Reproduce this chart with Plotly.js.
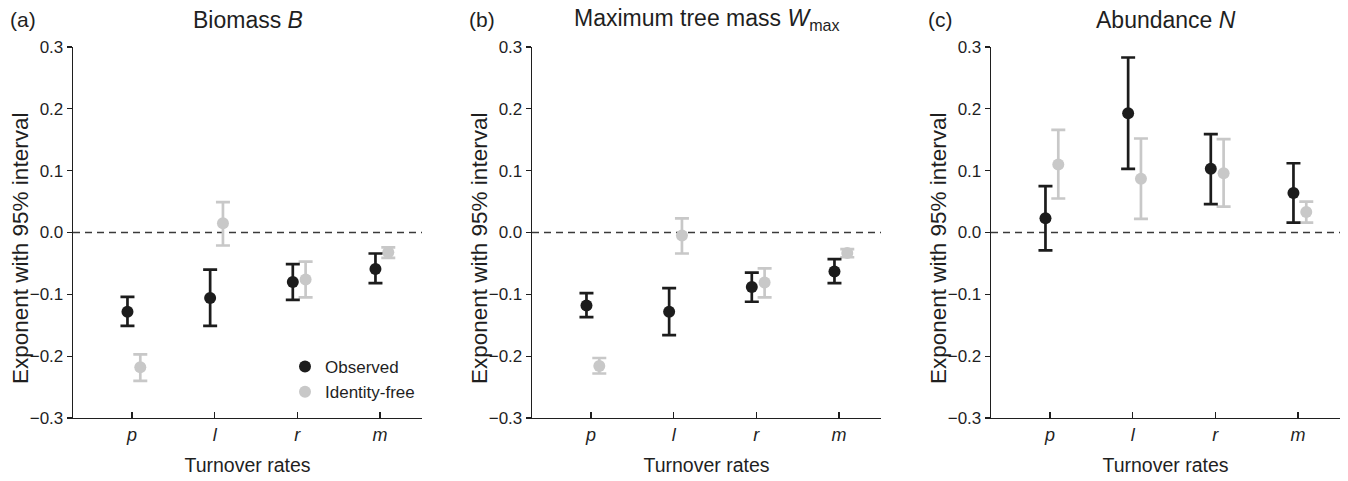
<!DOCTYPE html>
<html>
<head>
<meta charset="utf-8">
<script src="https://cdn.plot.ly/plotly-3.0.1.min.js"></script>
<style>html,body{margin:0;padding:0;background:#fff;}#chart{width:1348px;height:481px;}</style>
</head>
<body>
<div id="chart"></div>
<script>
// ---- data ----
const categories = ['p', 'l', 'r', 'm'];
const categoryLabels = ['<i>p</i>', '<i>l</i>', '<i>r</i>', '<i>m</i>'];
const yTickValues = [-0.3, -0.2, -0.1, 0.0, 0.1, 0.2, 0.3];
const yTickLabels = ['\u22120.3', '\u22120.2', '\u22120.1', '0.0', '0.1', '0.2', '0.3'];
const panelLetters = ['(a)', '(b)', '(c)'];
const panelTitles = ['Biomass <i>B</i>', 'Maximum tree mass <i>W</i><sub>max</sub>', 'Abundance <i>N</i>'];
const seriesNames = ['Observed', 'Identity-free'];
const xTitle = 'Turnover rates';
const yTitle = 'Exponent with 95% interval';

// Biomass B
const biomassObs      = [-0.128, -0.106, -0.080, -0.059];
const biomassObsLow   = [-0.151, -0.151, -0.109, -0.082];
const biomassObsHigh  = [-0.104, -0.060, -0.051, -0.034];
const biomassFree     = [-0.218,  0.015, -0.076, -0.032];
const biomassFreeLow  = [-0.240, -0.021, -0.105, -0.041];
const biomassFreeHigh = [-0.197,  0.049, -0.047, -0.024];

// Maximum tree mass Wmax
const wmaxObs      = [-0.118, -0.128, -0.088, -0.063];
const wmaxObsLow   = [-0.137, -0.166, -0.112, -0.082];
const wmaxObsHigh  = [-0.098, -0.090, -0.065, -0.043];
const wmaxFree     = [-0.216, -0.005, -0.081, -0.033];
const wmaxFreeLow  = [-0.228, -0.034, -0.105, -0.040];
const wmaxFreeHigh = [-0.203,  0.023, -0.058, -0.027];

// Abundance N
const abundObs      = [0.023, 0.193, 0.103, 0.064];
const abundObsLow   = [-0.029, 0.103, 0.046, 0.016];
const abundObsHigh  = [0.075, 0.283, 0.159, 0.112];
const abundFree     = [0.110, 0.087, 0.096, 0.033];
const abundFreeLow  = [0.055, 0.022, 0.042, 0.016];
const abundFreeHigh = [0.166, 0.152, 0.151, 0.050];

// ---- styling ----
const FONT = 'Liberation Sans, Arial, Helvetica, sans-serif';
const INK = '#1f1f1f';
const OBS_COLOR = '#1c1c1c';
const FREE_COLOR = '#c8c8c8';
const OFFSETS = [-0.055, 0.10];

const panels = [
  {obs: [biomassObs, biomassObsLow, biomassObsHigh], free: [biomassFree, biomassFreeLow, biomassFreeHigh]},
  {obs: [wmaxObs, wmaxObsLow, wmaxObsHigh], free: [wmaxFree, wmaxFreeLow, wmaxFreeHigh]},
  {obs: [abundObs, abundObsLow, abundObsHigh], free: [abundFree, abundFreeLow, abundFreeHigh]}
];

const W = 1348, H = 481;
const MT = 47, MB = 63, PH = H - MT - MB;
const domains = [[73 / W, 422 / W], [532 / W, 881 / W], [991 / W, 1340 / W]];
const yTitleX = [21, 480, 939];
const letterX = [8, 467, 926];

function makeTrace(idx, vals, low, high, color, name, offset, showLegend) {
  const sfx = idx === 0 ? '' : String(idx + 1);
  return {
    type: 'scatter', mode: 'markers',
    x: categories.map((c, i) => i + offset),
    y: vals,
    name: name,
    showlegend: showLegend,
    legendrank: name === seriesNames[0] ? 1 : 2,
    xaxis: 'x' + sfx, yaxis: 'y' + sfx,
    marker: {color: color, size: 12, line: {width: 0}},
    error_y: {
      type: 'data', symmetric: false,
      array: vals.map((v, i) => high[i] - v),
      arrayminus: vals.map((v, i) => v - low[i]),
      color: color, thickness: 2.7, width: 7
    },
    hoverinfo: 'x+y'
  };
}

const data = [];
panels.forEach((p, k) => {
  data.push(makeTrace(k, p.free[0], p.free[1], p.free[2], FREE_COLOR, seriesNames[1], OFFSETS[1], k === 0));
  data.push(makeTrace(k, p.obs[0], p.obs[1], p.obs[2], OBS_COLOR, seriesNames[0], OFFSETS[0], k === 0));
});

const layout = {
  width: W, height: H,
  margin: {l: 0, r: 0, t: MT, b: MB},
  paper_bgcolor: '#fff', plot_bgcolor: '#fff',
  font: {family: FONT, color: INK, size: 17},
  showlegend: true,
  legend: {
    x: 285 / W, xanchor: 'left', y: (H - MB - 349) / PH, yanchor: 'top',
    bgcolor: 'rgba(0,0,0,0)', font: {size: 17, family: FONT, color: INK},
    itemwidth: 30, tracegroupgap: 0
  },
  shapes: [],
  annotations: []
};

panels.forEach((p, k) => {
  const sfx = k === 0 ? '' : String(k + 1);
  layout['xaxis' + sfx] = {
    domain: domains[k], anchor: 'y' + sfx,
    range: [-0.714, 3.508],
    tickmode: 'array', tickvals: categories.map((c, i) => i), ticktext: categoryLabels,
    ticks: 'inside', ticklen: 6, tickwidth: 1.3, tickcolor: INK,
    showline: true, linecolor: INK, linewidth: 1.3,
    showgrid: false, zeroline: false,
    tickfont: {size: 18, family: FONT, color: INK},
    title: {text: xTitle, font: {size: 19.5, family: FONT, color: INK}, standoff: 14},
    fixedrange: true
  };
  layout['yaxis' + sfx] = {
    domain: [0, 1], anchor: 'x' + sfx,
    range: [-0.3, 0.3],
    tickmode: 'array', tickvals: yTickValues, ticktext: yTickLabels,
    ticks: 'outside', ticklen: 5, tickwidth: 1.3, tickcolor: INK,
    showline: true, linecolor: INK, linewidth: 1.3,
    showgrid: false, zeroline: false,
    tickfont: {size: 17, family: FONT, color: INK},
    fixedrange: true
  };
  layout.shapes.push({
    type: 'line', xref: 'x' + sfx + ' domain', yref: 'y' + sfx,
    x0: 0, x1: 1, y0: 0, y1: 0,
    line: {color: '#3a3a3a', width: 1.3, dash: '7px,5px'}, layer: 'below'
  });
  layout.annotations.push({
    text: panelTitles[k], xref: 'paper', yref: 'paper',
    x: (domains[k][0] + domains[k][1]) / 2, y: (H - MB - 20) / PH, xanchor: 'center', yanchor: 'middle',
    showarrow: false, font: {size: 23, family: FONT, color: INK}
  });
  layout.annotations.push({
    text: panelLetters[k], xref: 'paper', yref: 'paper',
    x: letterX[k] / W, y: (H - MB - 19) / PH, xanchor: 'left', yanchor: 'middle',
    showarrow: false, font: {size: 21, family: FONT, color: INK}
  });
  layout.annotations.push({
    text: yTitle, xref: 'paper', yref: 'paper', textangle: -90,
    x: yTitleX[k] / W, y: (H - MB - 249) / PH, xanchor: 'center', yanchor: 'middle',
    showarrow: false, font: {size: 22.5, family: FONT, color: INK}
  });
});

Plotly.newPlot('chart', data, layout, {displayModeBar: false, staticPlot: true});
</script>
</body>
</html>
